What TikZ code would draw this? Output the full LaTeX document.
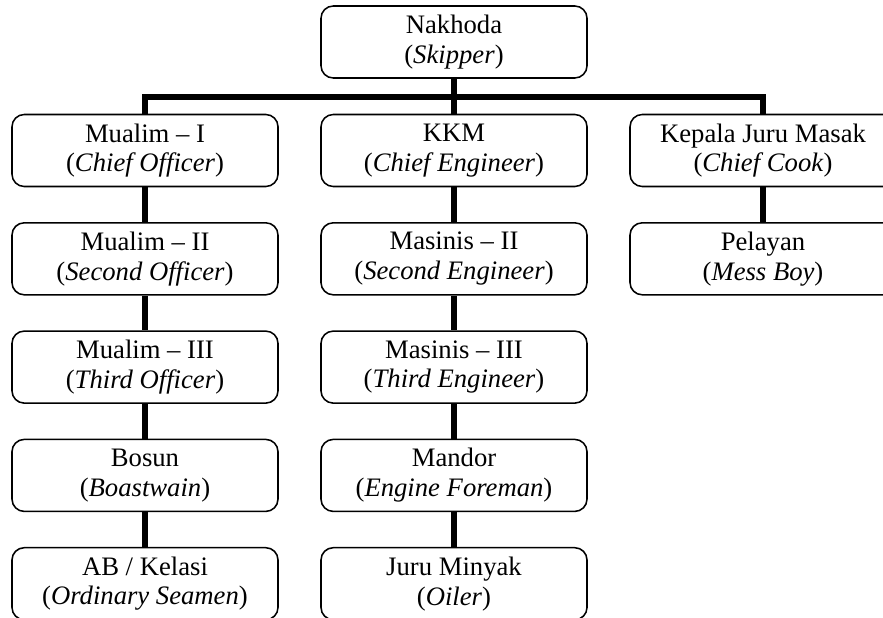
\documentclass[tikz,border=0pt]{standalone}
\usepackage{fontspec}
\setmainfont{Liberation Serif}
\usepackage{tikz}
\usetikzlibrary{positioning}
\usetikzlibrary{calc}
\tikzset{
  % Common styles for the crew chart
  rank/.style={draw, rounded corners=5.5pt, line width=0.7pt, align=center,
    minimum width=119.7pt, minimum height=32.4pt, inner sep=0pt,
    font=\fontsize{12}{13.4}\selectfont},
  link/.style={draw, line width=2.5pt}
}

\begin{document}
\begin{tikzpicture}[x=0.45pt, y=-0.45pt]
        \useasboundingbox (0,0) rectangle (883,617);
        \clip (0,0) rectangle (883,617);
        % Define nodes
        \node[rank] (nakhoda) at (454,42) {Nakhoda\\(\textit{Skipper})};

        \node[rank] (mualimA) at (145,150.5) {Mualim -- I\\(\textit{Chief Officer})};
        \node[rank] (mualimB) at (145,258.8) {Mualim -- II\\(\textit{Second Officer})};
        \node[rank] (mualimC) at (145,367.1) {Mualim -- III\\(\textit{Third Officer})};
        \node[rank] (bosun) at (145,475.4) {Bosun\\(\textit{Boastwain})};
        \node[rank] (kelasi) at (145,583.7) {AB / Kelasi\\(\textit{Ordinary Seamen})};

        \node[rank] (kkm) at (454,150.5) {KKM\\(\textit{Chief Engineer})};
        \node[rank] (masinisB) at (454,258.8) {Masinis -- II\\(\textit{Second Engineer})};
        \node[rank] (masinisC) at (454,367.1) {Masinis -- III\\(\textit{Third Engineer})};
        \node[rank] (mandor) at (454,475.4) {Mandor\\(\textit{Engine Foreman})};
        \node[rank] (minyak) at (454,583.7) {Juru Minyak\\(\textit{Oiler})};

        \node[rank] (koki) at (763,150.5) {Kepala Juru Masak\\(\textit{Chief Cook})};
        \node[rank] (pelayan) at (763,258.8) {Pelayan\\(\textit{Mess Boy})};

        \coordinate (bus) at (454,97);

        % Define connections
        \path [link] (nakhoda) -- (kkm);
        \path [link] (mualimA.north) |- (bus) -| (koki.north);
        \path [link] (mualimA) -- (mualimB);
        \path [link] (mualimB) -- (mualimC);
        \path [link] (mualimC) -- (bosun);
        \path [link] (bosun) -- (kelasi);
        \path [link] (kkm) -- (masinisB);
        \path [link] (masinisB) -- (masinisC);
        \path [link] (masinisC) -- (mandor);
        \path [link] (mandor) -- (minyak);
        \path [link] (koki) -- (pelayan);
    \end{tikzpicture}
\end{document}
